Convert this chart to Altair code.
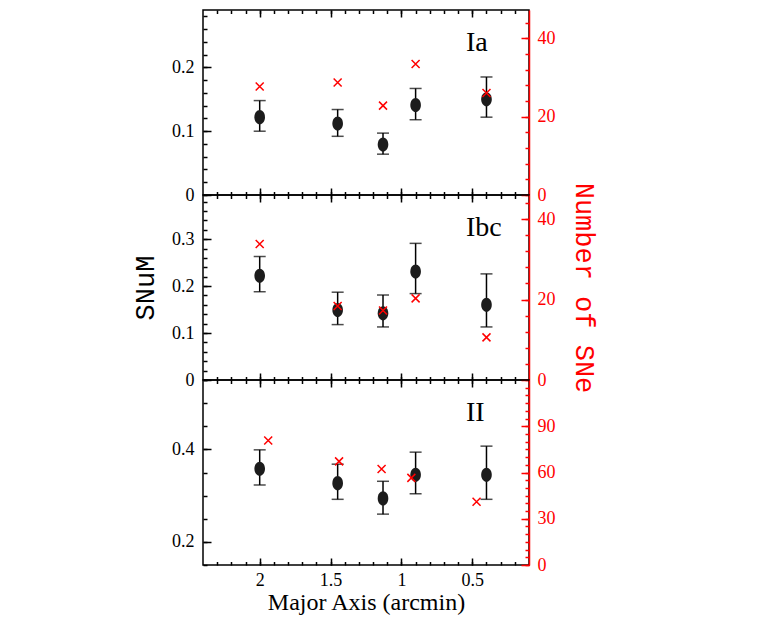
import altair as alt
import pandas as pd

# ---- data ----
X_POS = [2.0, 1.45, 1.13, 0.90, 0.40]

IA_SNUM = [0.122, 0.112, 0.079, 0.141, 0.150]
IA_LO = [0.100, 0.092, 0.064, 0.118, 0.122]
IA_HI = [0.148, 0.134, 0.097, 0.167, 0.185]
IA_NX = [2.0, 1.45, 1.13, 0.90, 0.40]
IA_N = [27.7, 28.7, 22.8, 33.4, 26.0]

IBC_SNUM = [0.222, 0.149, 0.142, 0.231, 0.160]
IBC_LO = [0.188, 0.118, 0.113, 0.184, 0.113]
IBC_HI = [0.263, 0.187, 0.181, 0.291, 0.226]
IBC_NX = [2.0, 1.45, 1.13, 0.90, 0.40]
IBC_N = [33.8, 18.4, 17.3, 20.3, 10.6]

II_SNUM = [0.358, 0.327, 0.294, 0.345, 0.345]
II_LO = [0.323, 0.292, 0.260, 0.304, 0.292]
II_HI = [0.399, 0.368, 0.331, 0.394, 0.407]
II_NX = [1.94, 1.44, 1.14, 0.93, 0.47]
II_N = [80.8, 67.2, 62.3, 56.5, 41.0]

X_MAJOR = [0.5, 1.0, 1.5, 2.0]
X_MINOR = [round(0.1 * i, 1) for i in range(2, 24)]

IA_Y_MAJOR = [0, 0.1, 0.2]
IA_Y_MINOR = [round(0.02 * i, 2) for i in range(0, 15)]
IA_N_MAJOR = [0, 20, 40]
IA_N_MINOR = [4 * i for i in range(0, 12)]

IBC_Y_MAJOR = [0, 0.1, 0.2, 0.3]
IBC_Y_MINOR = [round(0.02 * i, 2) for i in range(0, 20)]
IBC_N_MAJOR = [0, 20, 40]
IBC_N_MINOR = [4 * i for i in range(0, 12)]

II_Y_MAJOR = [0.2, 0.4]
II_Y_MINOR = [round(0.05 * i, 2) for i in range(3, 12)]
II_N_MAJOR = [0, 30, 60, 90]
II_N_MINOR = [5 * i for i in range(0, 24)]

W, H = 326, 185
RED = "#ff0000"
SERIF = "Liberation Serif"
MONO = "Liberation Mono"
ELLIPSE = "M0,-1A0.75,1,0,1,1,0,1A0.75,1,0,1,1,0,-1Z"
CROSS = "M-1,-1L1,1M-1,1L1,-1"

X_SCALE = alt.Scale(domain=[0.1, 2.4], reverse=True, nice=False, zero=False)


def x_axis(orient, values, size, labels=False, title=None):
    kw = dict(orient=orient, values=values, tickSize=size, offset=-size,
              domain=False, grid=False, labels=labels, tickColor="black",
              tickWidth=1.5, title=title)
    if labels:
        kw.update(labelFont=SERIF, labelFontSize=18, labelColor="black",
                  labelPadding=6, labelFlush=False, labelOverlap=False,
                  format="~g",
                  titleFont=SERIF, titleFontSize=24, titleFontWeight="normal",
                  titleColor="black", titlePadding=1)
    return alt.Axis(**kw)


def panel(label, snum, lo, hi, nx, n, ydom, ymaj, ymin, ndom, nmaj, nmin,
          bottom=False, titles=False):
    df = pd.DataFrame({"x": X_POS, "snum": snum, "lo": lo, "hi": hi})
    dn = pd.DataFrame({"x": nx, "n": n})
    ys = alt.Scale(domain=ydom, nice=False, zero=False)
    ns = alt.Scale(domain=ndom, nice=False, zero=False)

    bars = alt.Chart(df).mark_rule(color="black", strokeWidth=1.5).encode(
        x=alt.X("x:Q", scale=X_SCALE, axis=x_axis("bottom", X_MINOR, 3.5)),
        y=alt.Y("lo:Q", scale=ys, axis=alt.Axis(
            orient="left", values=ymin, tickSize=4, offset=-4, domain=False,
            grid=False, labels=False, tickColor="black", tickWidth=1.5,
            title=None)),
        y2="hi:Q",
    )
    cap_hi = alt.Chart(df).mark_tick(orient="horizontal", size=12, thickness=1.5,
                                     color="black").encode(
        x=alt.X("x:Q", scale=X_SCALE, axis=x_axis("top", X_MAJOR, 7)),
        y=alt.Y("hi:Q", scale=ys, axis=None),
    )
    cap_lo = alt.Chart(df).mark_tick(orient="horizontal", size=12, thickness=1.5,
                                     color="black").encode(
        x=alt.X("x:Q", scale=X_SCALE, axis=x_axis("top", X_MINOR, 3.5)),
        y=alt.Y("lo:Q", scale=ys, axis=None),
    )
    yax = dict(orient="left", values=ymaj, tickSize=8, offset=-8, domain=False,
               grid=False, labelPadding=9, labelFont=SERIF, labelFontSize=18,
               labelColor="black", tickColor="black", tickWidth=1.5,
               labelFlush=False, labelOverlap=False, format="~g",
               title="SNuM" if titles else None)
    if titles:
        yax.update(titleFont=MONO, titleFontSize=27, titleFontWeight="normal",
                   titleColor="black", titlePadding=12)
    pts = alt.Chart(df).mark_point(shape=ELLIPSE, size=200, filled=True,
                                   color="#1c1c1c", opacity=1).encode(
        x=alt.X("x:Q", scale=X_SCALE,
                axis=x_axis("bottom", X_MAJOR, 7, labels=bottom,
                            title="Major Axis (arcmin)" if bottom else None)),
        y=alt.Y("snum:Q", scale=ys, axis=alt.Axis(**yax)),
    )
    nax = dict(orient="right", values=nmaj, tickSize=8, offset=-8, domain=False,
               grid=False, labelPadding=8, labelFont=SERIF, labelFontSize=18,
               labelColor=RED, tickColor=RED, tickWidth=1.5, labelFlush=False,
               labelOverlap=False, format="d",
               title="Number of SNe" if titles else None)
    if titles:
        nax.update(titleFont=MONO, titleFontSize=27, titleFontWeight="normal",
                   titleColor=RED, titlePadding=14, titleAngle=90)
    crosses = alt.Chart(dn).mark_point(shape=CROSS, size=64, filled=False,
                                       color=RED, strokeWidth=1.5,
                                       opacity=1).encode(
        x=alt.X("x:Q", scale=X_SCALE, axis=None),
        y=alt.Y("n:Q", scale=ns, axis=alt.Axis(**nax)),
    )
    n_minor = alt.Chart(dn).mark_point(opacity=0).encode(
        x=alt.X("x:Q", scale=X_SCALE, axis=None),
        y=alt.Y("n:Q", scale=ns, axis=alt.Axis(
            orient="right", values=nmin, tickSize=4, offset=-4, domain=False,
            grid=False, labels=False, tickColor=RED, tickWidth=1.5,
            title=None)),
    )
    n_line = alt.Chart(dn).mark_point(opacity=0).encode(
        x=alt.X("x:Q", scale=X_SCALE, axis=None),
        y=alt.Y("n:Q", scale=ns, axis=alt.Axis(
            orient="right", domain=True, domainColor=RED, domainWidth=1.5,
            ticks=False, labels=False, grid=False, title=None, zindex=1)),
    )
    txt = alt.Chart(pd.DataFrame({"t": [label]})).mark_text(
        align="left", baseline="alphabetic", font=SERIF, fontSize=28,
        color="black").encode(
        x=alt.value(263), y=alt.value(41), text="t:N")

    return alt.layer(bars, cap_hi, cap_lo, pts, crosses, n_minor, n_line, txt).resolve_scale(
        y="independent").resolve_axis(x="independent", y="independent").properties(
        width=W, height=H)


p1 = panel("Ia", IA_SNUM, IA_LO, IA_HI, IA_NX, IA_N, [0, 0.29], IA_Y_MAJOR,
           IA_Y_MINOR, [0, 47.2], IA_N_MAJOR, IA_N_MINOR)
p2 = panel("Ibc", IBC_SNUM, IBC_LO, IBC_HI, IBC_NX, IBC_N, [0, 0.394],
           IBC_Y_MAJOR, IBC_Y_MINOR, [0, 46], IBC_N_MAJOR, IBC_N_MINOR,
           titles=True)
p3 = panel("II", II_SNUM, II_LO, II_HI, II_NX, II_N, [0.15, 0.55], II_Y_MAJOR,
           II_Y_MINOR, [0, 120], II_N_MAJOR, II_N_MINOR, bottom=True)

chart = alt.vconcat(p1, p2, p3, spacing=0, bounds="flush").properties(
    padding={"left": 122, "top": 0, "right": 5, "bottom": 5}
).configure_view(stroke="black", strokeWidth=1.5)

chart.save("out.html", embed_options={"renderer": "svg", "actions": False})
